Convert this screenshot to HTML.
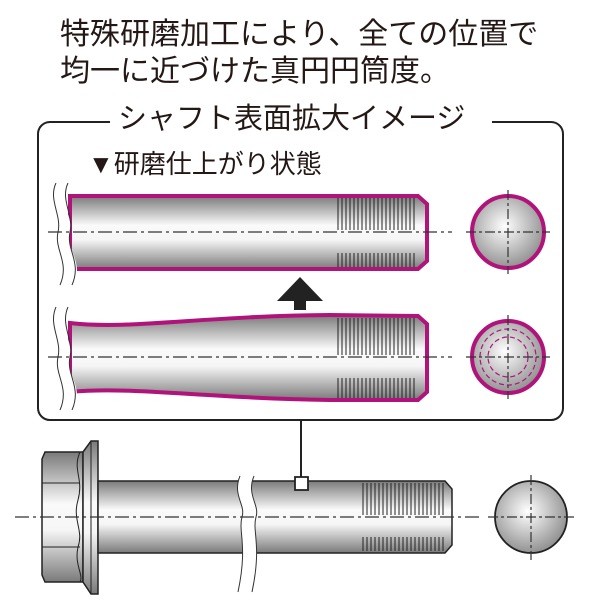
<!DOCTYPE html>
<html><head><meta charset="utf-8"><style>
body{margin:0;background:#fff}
svg{display:block}
text{font-family:"Liberation Sans","Noto Sans CJK JP",sans-serif;fill:#231815}
</style></head><body>
<svg width="600" height="600" viewBox="0 0 600 600" xmlns="http://www.w3.org/2000/svg">
<defs>
<linearGradient id="g" x1="0" y1="0" x2="0" y2="1">
<stop offset="0" stop-color="#7a7a7a"/><stop offset="0.4" stop-color="#fafafa"/><stop offset="0.6" stop-color="#f6f6f6"/><stop offset="1" stop-color="#7a7a7a"/>
</linearGradient>
<radialGradient id="rg" cx="0.45" cy="0.42" r="0.62">
<stop offset="0" stop-color="#ffffff"/><stop offset="1" stop-color="#8a8a8a"/>
</radialGradient>
</defs>
<text x="60" y="44" font-size="30">特殊研磨加工により、全ての位置で</text>
<text x="60" y="81" font-size="30">均一に近づけた真円円筒度。</text>
<rect x="38" y="122" width="525" height="298" rx="12" fill="none" stroke="#222" stroke-width="2"/>
<rect x="110" y="108" width="382" height="30" fill="#fff"/>
<text x="118" y="128" font-size="29">シャフト表面拡大イメージ</text>
<text x="88" y="173" font-size="26">▼研磨仕上がり状態</text>

<!-- upper shaft -->
<path d="M70,196 L418,196 L427,204 L427,261 L418,269 L70,269 Z" fill="url(#g)" stroke="#b0137a" stroke-width="4"/>
<g stroke="#222" stroke-width="1">
<path d="M338,198V230M342,198V230M346,198V230M350,198V230M354,198V230M358,198V230M362,198V230M366,198V230M370,198V230M374,198V230M378,198V230M382,198V230M386,198V230M390,198V230M394,198V230M398,198V230M402,198V230M406,198V230M410,198V230M414,198V230"/>
<path d="M338,253V267M342,253V267M346,253V267M350,253V267M354,253V267M358,253V267M362,253V267M366,253V267M370,253V267M374,253V267M378,253V267M382,253V267M386,253V267M390,253V267M394,253V267M398,253V267M402,253V267M406,253V267M410,253V267M414,253V267"/>
</g>
<path d="M48,183 C40,200 60,215 56,232 C52,250 70,262 60,285 L64,285 L74,285 C84,262 66,250 70,232 C74,215 56,200 64,183 Z" fill="#fff"/>
<path d="M56,183 C48,200 62,215 58,232 C54,250 70,262 60,285 M68,183 C60,200 74,215 70,232 C66,250 82,262 72,285" fill="none" stroke="#333" stroke-width="1"/>
<line x1="48" y1="232" x2="452" y2="232" stroke="#333" stroke-width="1.2" stroke-dasharray="14,4,3,4"/>
<circle cx="508" cy="232" r="36" fill="url(#rg)" stroke="#b0137a" stroke-width="4"/>
<line x1="466" y1="232" x2="550" y2="232" stroke="#333" stroke-width="1.2" stroke-dasharray="10,3,3,3"/>
<line x1="508" y1="190" x2="508" y2="274" stroke="#333" stroke-width="1.2" stroke-dasharray="10,3,3,3"/>

<!-- arrow -->
<path d="M277,301 L300,277 L323,301 L306,301 L306,310 L294,310 L294,301 Z" fill="#222"/>

<!-- lower shaft -->
<path d="M70,323 C130,330 200,316 330,315 L418,316 L427,324 L427,392 L418,400 L330,400 C200,398 130,386 70,392 Z" fill="url(#g)" stroke="#b0137a" stroke-width="4"/>
<g stroke="#222" stroke-width="1">
<path d="M338,318V355M342,318V355M346,318V355M350,318V355M354,318V355M358,318V355M362,318V355M366,318V355M370,318V355M374,318V355M378,318V355M382,318V355M386,318V355M390,318V355M394,318V355M398,318V355M402,318V355M406,318V355M410,318V355M414,318V355"/>
<path d="M338,378V398M342,378V398M346,378V398M350,378V398M354,378V398M358,378V398M362,378V398M366,378V398M370,378V398M374,378V398M378,378V398M382,378V398M386,378V398M390,378V398M394,378V398M398,378V398M402,378V398M406,378V398M410,378V398M414,378V398"/>
</g>
<path d="M48,307 C40,325 60,340 56,357 C52,375 70,387 60,410 L74,410 C84,387 66,375 70,357 C74,340 56,325 64,307 Z" fill="#fff"/>
<path d="M56,307 C48,325 62,340 58,357 C54,375 70,387 60,410 M68,307 C60,325 74,340 70,357 C66,375 82,387 72,410" fill="none" stroke="#333" stroke-width="1"/>
<line x1="48" y1="357" x2="452" y2="357" stroke="#333" stroke-width="1.2" stroke-dasharray="14,4,3,4"/>
<circle cx="508" cy="357" r="36" fill="url(#rg)" stroke="#b0137a" stroke-width="4"/>
<circle cx="508" cy="357" r="28" fill="none" stroke="#b0137a" stroke-width="1.2" stroke-dasharray="5,3"/>
<circle cx="508" cy="357" r="20" fill="none" stroke="#b0137a" stroke-width="1.2" stroke-dasharray="5,3"/>
<line x1="466" y1="357" x2="550" y2="357" stroke="#333" stroke-width="1.2" stroke-dasharray="10,3,3,3"/>
<line x1="508" y1="315" x2="508" y2="399" stroke="#333" stroke-width="1.2" stroke-dasharray="10,3,3,3"/>

<!-- connector -->
<line x1="301" y1="420" x2="301" y2="478" stroke="#222" stroke-width="2"/>

<!-- bolt -->
<path d="M45,452 L83,452 L83,582 L45,582 L42,575 L42,459 Z" fill="url(#g)" stroke="#222" stroke-width="1.5"/>
<path d="M42,483 H80 M42,547 H80" stroke="#222" stroke-width="1"/>
<path d="M80,452 C72,470 84,478 78,500 C72,520 84,530 78,547 C74,565 84,575 80,582" fill="none" stroke="#222" stroke-width="1"/>
<path d="M83,452 L91,441 L98,441 L98,594 L91,594 L83,582 Z" fill="url(#g)" stroke="#222" stroke-width="1.5"/>
<line x1="91" y1="441" x2="91" y2="594" stroke="#222" stroke-width="1"/>
<path d="M98,481 L445,481 L452,489 L452,545 L445,553 L98,553 Z" fill="url(#g)" stroke="#222" stroke-width="1.5"/>
<g stroke="#222" stroke-width="1">
<path d="M363,483V515M367,483V515M371,483V515M375,483V515M379,483V515M383,483V515M387,483V515M391,483V515M395,483V515M399,483V515M403,483V515M407,483V515M411,483V515M415,483V515M419,483V515M423,483V515M427,483V515M431,483V515M435,483V515M439,483V515M443,483V515"/>
<path d="M363,537V551M367,537V551M371,537V551M375,537V551M379,537V551M383,537V551M387,537V551M391,537V551M395,537V551M399,537V551M403,537V551M407,537V551M411,537V551M415,537V551M419,537V551M423,537V551M427,537V551M431,537V551M435,537V551M439,537V551M443,537V551"/>
</g>
<path d="M240,476 C232,495 246,505 242,517 C238,532 248,545 238,592 L252,592 C262,545 252,532 256,517 C260,505 246,495 254,476 Z" fill="#fff"/>
<path d="M240,476 C232,495 246,505 242,517 C238,532 248,545 238,592 M254,476 C246,495 260,505 256,517 C252,532 262,545 252,592" fill="none" stroke="#333" stroke-width="1"/>
<rect x="295" y="477" width="13" height="13" fill="#fff" stroke="#222" stroke-width="1.8"/>
<line x1="15" y1="517" x2="480" y2="517" stroke="#333" stroke-width="1.2" stroke-dasharray="14,4,3,4"/>
<circle cx="531" cy="517" r="36" fill="url(#rg)" stroke="#222" stroke-width="1.8"/>
<line x1="488" y1="517" x2="575" y2="517" stroke="#333" stroke-width="1.2" stroke-dasharray="10,3,3,3"/>
<line x1="531" y1="475" x2="531" y2="560" stroke="#333" stroke-width="1.2" stroke-dasharray="10,3,3,3"/>
</svg>
</body></html>
